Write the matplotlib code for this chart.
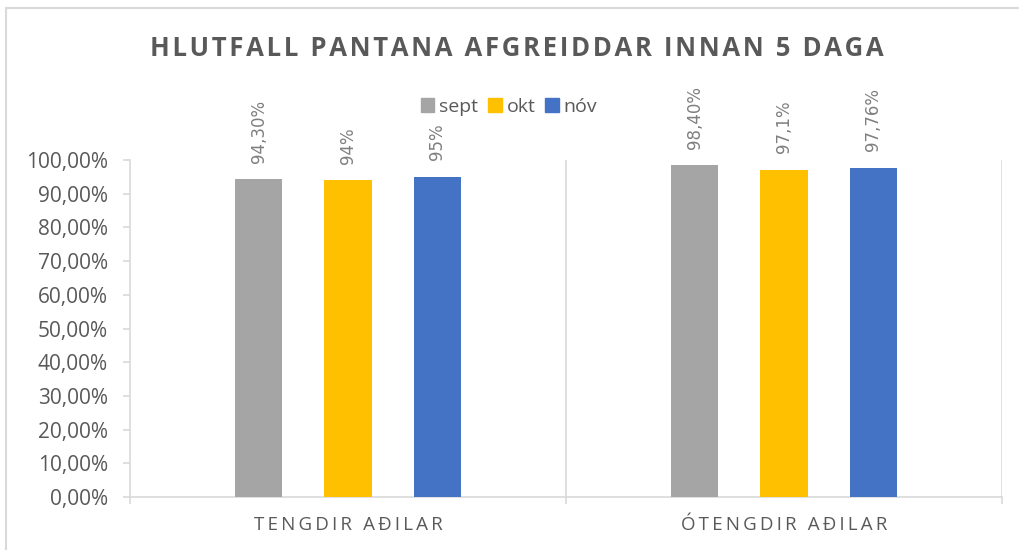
import matplotlib.pyplot as plt
from matplotlib.patches import Rectangle, Patch
from matplotlib.ticker import FuncFormatter

categories = ["TENGDIR AÐILAR", "ÓTENGDIR AÐILAR"]
series = ["sept", "okt", "nóv"]
sept = [0.943, 0.984]
okt = [0.94, 0.971]
nov = [0.95, 0.9776]
labels_sept = ["94,30%", "98,40%"]
labels_okt = ["94%", "97,1%"]
labels_nov = ["95%", "97,76%"]

colors = ["#a5a5a5", "#ffc000", "#4472c4"]
text_grey = "#595959"
line_grey = "#d9d9d9"


def spaced(s, sep="\u2009"):
    # fake letter spacing
    return sep.join(s)


fig = plt.figure(figsize=(10.2, 5.5), dpi=100)
ax = fig.add_axes([130 / 1020, 53 / 550, 872 / 1020, 337 / 550])

centers = [0.5, 1.5]
step = 0.205
width = 0.108
values = [sept, okt, nov]
labels = [labels_sept, labels_okt, labels_nov]
for i, (vals, labs) in enumerate(zip(values, labels)):
    xs = [c + (i - 1) * step for c in centers]
    ax.bar(xs, vals, width=width, color=colors[i], zorder=3)
    for x, v, t in zip(xs, vals, labs):
        ax.annotate(t, (x, v), xytext=(0, 12), textcoords="offset points",
                    rotation=90, ha="center", va="bottom", fontsize=12,
                    color="#7f7f7f", family="DejaVu Sans")

ax.set_xlim(0, 2)
ax.set_ylim(0, 1)

for s in ["top", "right"]:
    ax.spines[s].set_visible(False)
ax.spines["left"].set_color(line_grey)
ax.spines["bottom"].set_color(line_grey)
ax.spines["left"].set_linewidth(1.2)
ax.spines["bottom"].set_linewidth(1.2)
for xb in [1, 2]:
    ax.axvline(xb, color=line_grey, lw=1.2, zorder=1)

ax.set_yticks([i / 10 for i in range(11)])
ax.yaxis.set_major_formatter(FuncFormatter(lambda v, p: f"{v * 100:.2f}%".replace(".", ",")))
ax.tick_params(axis="y", length=5, color=line_grey, width=1.2, labelsize=15,
               labelcolor=text_grey, pad=11)
for lab in ax.get_yticklabels():
    lab.set_family("Open Sans")

ax.set_xticks([0, 1, 2])
ax.set_xticklabels([])
ax.tick_params(axis="x", which="major", length=5, color=line_grey, width=1.2)
ax.set_xticks(centers, minor=True)
ax.set_xticklabels([spaced(c) for c in categories], minor=True)
ax.tick_params(axis="x", which="minor", length=0, pad=14, labelsize=13.5,
               labelcolor=text_grey)
for lab in ax.get_xticklabels(minor=True):
    lab.set_family("Open Sans")

fig.text(517 / 1020, 1 - 48 / 550, spaced("HLUTFALL PANTANA AFGREIDDAR INNAN 5 DAGA", "\u200a"),
         ha="center", va="center", fontsize=18.5, fontweight="bold",
         color=text_grey, family="Open Sans")

handles = [Patch(color=c, label=s) for c, s in zip(colors, series)]
fig.legend(handles=handles, loc="center", bbox_to_anchor=(509 / 1020, 1 - 107 / 550),
           ncol=3, frameon=False, handlelength=0.7, handleheight=0.7,
           handletextpad=0.25, columnspacing=0.5, labelcolor=text_grey,
           prop={"family": "Open Sans", "size": 14})

fig.patches.append(Rectangle((6 / 1020, -0.1), 1.2, 1 - 8 / 550 + 0.1,
                             transform=fig.transFigure, fill=False,
                             edgecolor=line_grey, lw=1.5))

fig.savefig("out.png", dpi=100)
